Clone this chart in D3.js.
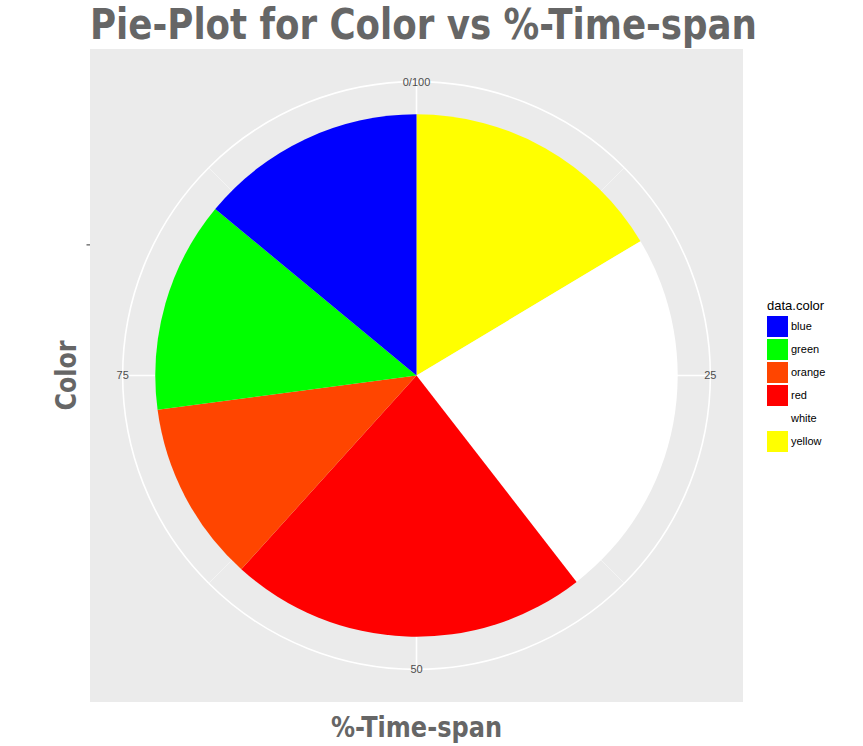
<!DOCTYPE html>
<html>
<head>
<meta charset="utf-8">
<script src="https://cdn.jsdelivr.net/npm/d3@7"></script>
<style>
  body { margin: 0; background: #fff; }
</style>
</head>
<body>
<div id="chart"></div>
<script>
// data, in stacking order (first value starts at 0)
const colors = ["yellow", "white", "red", "orange", "green", "blue"];
const timeSpan = [16.4, 23.1, 22.2, 11.2, 13.1, 14.0];
const fills = {blue: "#0000FF", green: "#00FF00", orange: "#FF4500", red: "#FF0000", white: "#FFFFFF", yellow: "#FFFF00"};
const legendOrder = ["blue", "green", "orange", "red", "white", "yellow"];
const majorBreaks = [0, 25, 50, 75];
const majorLabels = ["0/100", "25", "50", "75"];
const minorBreaks = [12.5, 37.5, 62.5, 87.5];

const W = 863, H = 746;
const panel = { x: 90, y: 49, size: 653 };
const cx = panel.x + panel.size / 2, cy = panel.y + panel.size / 2;
const sans = "'Liberation Sans', Arial, sans-serif";
const titleFont = "'DejaVu Sans Condensed', 'DejaVu Sans', sans-serif";

const svg = d3.select("#chart").append("svg")
    .attr("width", W)
    .attr("height", H);

// panel background
svg.append("rect")
   .attr("x", panel.x).attr("y", panel.y)
   .attr("width", panel.size).attr("height", panel.size)
   .attr("fill", "#EBEBEB");

const g = svg.append("g").attr("transform", `translate(${cx},${cy})`);

const theta = d3.scaleLinear().domain([0, 100]).range([0, 2 * Math.PI]);
// discrete x "" mapped to radius: range [0.5,1.5] -> [0,0.4]
const rScale = d3.scaleLinear().domain([0.5, 1.5]).range([0, 0.4 * panel.size]);
const rOuter = 0.45 * panel.size;

// grid
g.append("circle").attr("r", rOuter).attr("fill", "none").attr("stroke", "#fff").attr("stroke-width", 1.6);

minorBreaks.forEach(b => {
    g.append("line")
     .attr("x1", 0).attr("y1", 0)
     .attr("x2", rOuter * Math.sin(theta(b)))
     .attr("y2", -rOuter * Math.cos(theta(b)))
     .attr("stroke", "#F5F5F5").attr("stroke-width", 0.9);
});
majorBreaks.forEach(b => {
    g.append("line")
     .attr("x1", 0).attr("y1", 0)
     .attr("x2", rOuter * Math.sin(theta(b)))
     .attr("y2", -rOuter * Math.cos(theta(b)))
     .attr("stroke", "#fff").attr("stroke-width", 1.6);
});

// slices
const ends = d3.cumsum(timeSpan);
const arc = d3.arc().innerRadius(0).outerRadius(rScale(1.5));

g.selectAll("path.slice")
 .data(colors)
 .enter()
 .append("path")
 .attr("class", "slice")
 .attr("d", (d, i) => arc({ startAngle: theta(ends[i] - timeSpan[i]), endAngle: theta(ends[i]) }))
 .attr("fill", d => fills[d]);

// theta labels
majorBreaks.forEach((b, i) => {
    g.append("text")
     .attr("x", rOuter * Math.sin(theta(b)))
     .attr("y", -rOuter * Math.cos(theta(b)))
     .attr("dy", "0.35em")
     .attr("text-anchor", "middle")
     .style("font-family", sans)
     .style("font-size", "11px")
     .attr("fill", "#4D4D4D")
     .text(majorLabels[i]);
});

// r axis tick at x = 1 (empty label)
svg.append("line")
   .attr("x1", panel.x - 3.5).attr("x2", panel.x)
   .attr("y1", cy - rScale(1)).attr("y2", cy - rScale(1))
   .attr("stroke", "#333").attr("stroke-width", 1);

// title
svg.append("text")
   .attr("x", panel.x)
   .attr("y", 39)
   .style("font-family", titleFont)
   .style("font-weight", "bold")
   .style("font-size", "42px")
   .attr("fill", "#666666")
   .attr("textLength", 667).attr("lengthAdjust", "spacingAndGlyphs")
   .text("Pie-Plot for Color vs %-Time-span");

// axis titles
svg.append("text")
   .attr("x", cx)
   .attr("y", 737)
   .attr("text-anchor", "middle")
   .style("font-family", titleFont)
   .style("font-weight", "bold")
   .style("font-size", "28px")
   .attr("fill", "#666666")
   .attr("textLength", 171).attr("lengthAdjust", "spacingAndGlyphs")
   .text("%-Time-span");

svg.append("text")
   .attr("transform", `translate(76,${cy}) rotate(-90)`)
   .attr("text-anchor", "middle")
   .style("font-family", titleFont)
   .style("font-weight", "bold")
   .style("font-size", "28px")
   .attr("fill", "#666666")
   .attr("textLength", 70).attr("lengthAdjust", "spacingAndGlyphs")
   .text("Color");

// legend
const legend = svg.append("g").attr("transform", "translate(767,0)");
legend.append("text")
      .attr("x", 0).attr("y", 310)
      .style("font-family", sans)
      .style("font-size", "13px")
      .attr("fill", "#000")
      .text("data.color");

const keys = legend.selectAll("g.key")
    .data(legendOrder)
    .enter()
    .append("g")
    .attr("class", "key")
    .attr("transform", (d, i) => `translate(0,${316 + i * 23})`);

keys.append("rect")
    .attr("width", 21).attr("height", 21)
    .attr("fill", d => fills[d]);

keys.append("text")
    .attr("x", 24).attr("y", 10.5)
    .attr("dy", "0.35em")
    .style("font-family", sans)
    .style("font-size", "11px")
    .attr("fill", "#000")
    .text(d => d);
</script>
</body>
</html>
